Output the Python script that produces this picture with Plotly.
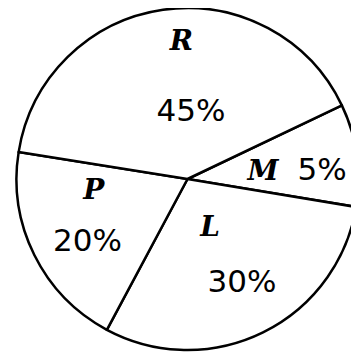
import plotly.graph_objects as go

# slice labels, stated percentages and drawn slice shares (angles)
labels = ["M", "L", "P", "R"]
percents = [5, 30, 20, 45]
drawn_share = [9.7, 30.2, 19.7, 40.4]

NB = "\u00a0"


def lab_txt(lab):
    return f"<span style=\"font-family:'DejaVu Serif';font-size:28px\"><b><i>{lab}</i></b></span>"


def pct_txt(p):
    return f"<span style=\"font-size:31px\">{p}%</span>"


def pad(size):
    # blank filler that only widens the text box
    return f"<span style=\"font-size:{size}px\">{NB}</span>"


texts = [
    lab_txt("M") + NB * 3 + pct_txt(5) + NB * 7 + "<br>" + pad(10),
    NB + lab_txt("L") + NB * 7 + "<br><br>" + NB * 4 + "<sub>" + pct_txt(30) + "</sub><br>" + pad(12),
    NB + lab_txt("P") + "<br><br>" + pct_txt(20) + NB + "<br>" + NB,
    NB * 2 + "<sup><sup>" + lab_txt("R") + "</sup></sup><br><br>" + NB * 5
    + "<sub>" + pct_txt(45) + "</sub><br><sub>" + pad(60) + "</sub>",
]

fig = go.Figure(go.Pie(
    labels=labels,
    values=drawn_share,
    text=texts,
    textinfo="text",
    textposition="inside",
    insidetextorientation="horizontal",
    sort=False,
    direction="clockwise",
    rotation=64.5,
    marker=dict(colors=["white"] * 4, line=dict(color="black", width=2.5)),
    textfont=dict(family="DejaVu Sans", size=20, color="black"),
    domain=dict(x=[8 / 359, 351 / 359], y=[11 / 353, 1]),
    showlegend=False,
    hoverinfo="skip",
))

fig.update_layout(
    width=359, height=353,
    margin=dict(l=0, r=0, t=0, b=0),
    paper_bgcolor="white",
    plot_bgcolor="white",
    uniformtext=dict(minsize=20, mode="show"),
)

fig.write_html("out.html")
